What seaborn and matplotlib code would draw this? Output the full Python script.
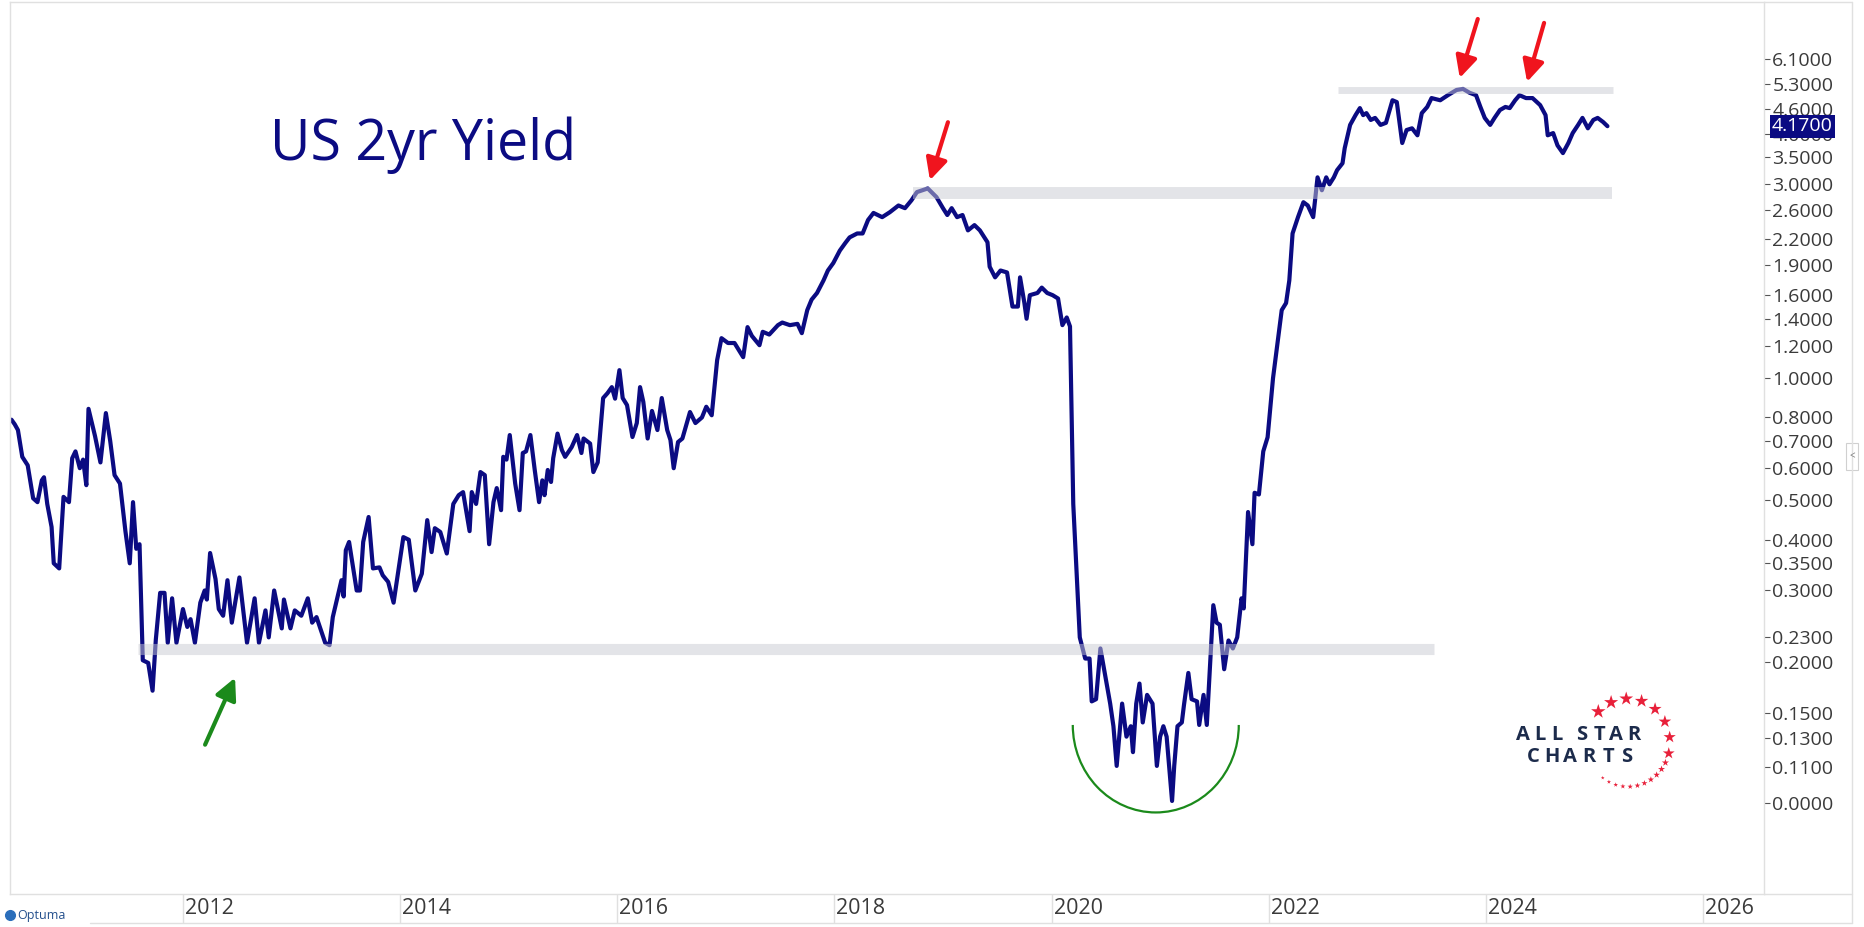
import numpy as np
import pandas as pd
import matplotlib
matplotlib.use("Agg")
import matplotlib.pyplot as plt
import seaborn as sns
from matplotlib.patches import Arc, Rectangle
from matplotlib.lines import Line2D
from matplotlib.ticker import NullLocator
from matplotlib.transforms import blended_transform_factory, IdentityTransform

# US 2yr yield (decimal year, percent)
t_2010_13 = [2010.42, 2010.45, 2010.48, 2010.52, 2010.57, 2010.62, 2010.66, 2010.70, 2010.72, 2010.75,
             2010.79, 2010.81, 2010.86, 2010.90, 2010.95, 2010.98, 2011.01, 2011.05, 2011.08, 2011.11,
             2011.13, 2011.19, 2011.24, 2011.29, 2011.33, 2011.37, 2011.42, 2011.47, 2011.51, 2011.54,
             2011.57, 2011.60, 2011.63, 2011.68, 2011.72, 2011.75, 2011.79, 2011.83, 2011.86, 2011.90,
             2011.94, 2012.00, 2012.04, 2012.07, 2012.11, 2012.16, 2012.20, 2012.22, 2012.25, 2012.30,
             2012.33, 2012.37, 2012.41, 2012.45, 2012.52, 2012.59, 2012.66, 2012.70, 2012.76, 2012.79,
             2012.84, 2012.91, 2012.93, 2012.99, 2013.03, 2013.09, 2013.15, 2013.19, 2013.23, 2013.31,
             2013.35, 2013.38, 2013.46, 2013.48, 2013.50, 2013.53, 2013.60, 2013.63, 2013.66, 2013.71,
             2013.75, 2013.81, 2013.84, 2013.89, 2013.94]
y_2010_13 = [0.79, 0.77, 0.745, 0.64, 0.61, 0.506, 0.495, 0.56, 0.57, 0.49,
             0.43, 0.35, 0.34, 0.51, 0.495, 0.635, 0.66, 0.60, 0.63, 0.545,
             0.84, 0.72, 0.62, 0.82, 0.70, 0.577, 0.55, 0.42, 0.35, 0.495,
             0.38, 0.39, 0.202, 0.199, 0.17, 0.227, 0.296, 0.296, 0.223, 0.287,
             0.223, 0.27, 0.244, 0.255, 0.223, 0.28, 0.30, 0.285, 0.371, 0.32,
             0.27, 0.26, 0.318, 0.25, 0.323, 0.223, 0.287, 0.223, 0.268, 0.23,
             0.30, 0.242, 0.285, 0.242, 0.268, 0.26, 0.287, 0.25, 0.258, 0.223,
             0.22, 0.258, 0.318, 0.29, 0.377, 0.395, 0.30, 0.30, 0.395, 0.455,
             0.34, 0.342, 0.327, 0.315, 0.28]

t_2014_16 = [2014.03, 2014.08, 2014.14, 2014.20, 2014.25, 2014.29, 2014.32, 2014.37, 2014.43, 2014.49,
             2014.54, 2014.58, 2014.64, 2014.66, 2014.70, 2014.74, 2014.78, 2014.82, 2014.86, 2014.89,
             2014.93, 2014.95, 2014.98, 2015.01, 2015.06, 2015.10, 2015.13, 2015.16, 2015.20, 2015.24,
             2015.28, 2015.31, 2015.33, 2015.36, 2015.39, 2015.41, 2015.45, 2015.49, 2015.52, 2015.58,
             2015.63, 2015.67, 2015.69, 2015.75, 2015.78, 2015.82, 2015.87, 2015.91, 2015.95, 2015.98,
             2016.02, 2016.05, 2016.09, 2016.14, 2016.18, 2016.21, 2016.24, 2016.28, 2016.32, 2016.37,
             2016.41, 2016.46, 2016.49, 2016.52, 2016.56, 2016.60, 2016.67, 2016.72, 2016.78, 2016.82,
             2016.87, 2016.92, 2016.96]
y_2014_16 = [0.406, 0.40, 0.30, 0.33, 0.447, 0.373, 0.427, 0.418, 0.37, 0.49,
             0.515, 0.524, 0.42, 0.524, 0.49, 0.587, 0.577, 0.39, 0.495, 0.536,
             0.473, 0.64, 0.63, 0.724, 0.55, 0.473, 0.654, 0.66, 0.724, 0.594,
             0.495, 0.56, 0.515, 0.594, 0.555, 0.635, 0.73, 0.665, 0.64, 0.676,
             0.724, 0.654, 0.71, 0.69, 0.587, 0.62, 0.893, 0.918, 0.95, 0.89,
             1.046, 0.893, 0.858, 0.716, 0.775, 0.95, 0.874, 0.71, 0.83, 0.745,
             0.893, 0.745, 0.704, 0.60, 0.696, 0.71, 0.825, 0.775, 0.80, 0.85,
             0.81, 1.107, 1.254]

t_2017_19 = [2017.02, 2017.08, 2017.16, 2017.20, 2017.24, 2017.31, 2017.34, 2017.40, 2017.48, 2017.52,
             2017.59, 2017.66, 2017.70, 2017.75, 2017.79, 2017.84, 2017.90, 2017.94, 2017.99, 2018.05,
             2018.10, 2018.14, 2018.21, 2018.26, 2018.31, 2018.36, 2018.44, 2018.51, 2018.59, 2018.65,
             2018.71, 2018.76, 2018.81, 2018.86, 2018.94, 2019.00, 2019.04, 2019.08, 2019.13, 2019.18,
             2019.23, 2019.29, 2019.34, 2019.41, 2019.43, 2019.48, 2019.53, 2019.59, 2019.64, 2019.69,
             2019.71, 2019.75, 2019.77, 2019.80, 2019.87, 2019.91, 2019.96]
y_2017_19 = [1.22, 1.22, 1.126, 1.335, 1.27, 1.205, 1.30, 1.28, 1.35, 1.37,
             1.35, 1.36, 1.29, 1.47, 1.56, 1.62, 1.74, 1.84, 1.92, 2.06,
             2.15, 2.22, 2.27, 2.27, 2.45, 2.55, 2.49, 2.56, 2.66, 2.62,
             2.74, 2.87, 2.90, 2.93, 2.79, 2.62, 2.52, 2.62, 2.49, 2.52,
             2.31, 2.38, 2.31, 2.16, 1.88, 1.77, 1.84, 1.82, 1.50, 1.50,
             1.77, 1.53, 1.40, 1.60, 1.62, 1.67, 1.62]

t_2020_21 = [2020.01, 2020.06, 2020.10, 2020.14, 2020.17, 2020.20, 2020.26, 2020.31, 2020.35, 2020.37,
             2020.41, 2020.45, 2020.49, 2020.54, 2020.57, 2020.60, 2020.65, 2020.69, 2020.73, 2020.75,
             2020.78, 2020.81, 2020.84, 2020.88, 2020.93, 2020.97, 2021.00, 2021.03, 2021.06, 2021.11,
             2021.13, 2021.16, 2021.20, 2021.22, 2021.26, 2021.29, 2021.34, 2021.36, 2021.40, 2021.43,
             2021.49, 2021.52, 2021.55, 2021.59, 2021.63, 2021.67, 2021.71, 2021.75, 2021.77, 2021.81,
             2021.85, 2021.87, 2021.91, 2021.95, 2021.99]
y_2020_21 = [1.60, 1.57, 1.35, 1.41, 1.34, 0.49, 0.230, 0.204, 0.204, 0.160,
             0.162, 0.216, 0.188, 0.158, 0.139, 0.111, 0.158, 0.131, 0.139, 0.120,
             0.158, 0.177, 0.142, 0.166, 0.158, 0.111, 0.131, 0.139, 0.131, 0.091,
             0.111, 0.139, 0.142, 0.157, 0.188, 0.162, 0.160, 0.140, 0.166, 0.140,
             0.276, 0.250, 0.247, 0.192, 0.226, 0.216, 0.230, 0.287, 0.271, 0.468,
             0.390, 0.522, 0.517, 0.66, 0.715]

t_2022_25 = [2022.04, 2022.08, 2022.12, 2022.16, 2022.19, 2022.22, 2022.27, 2022.32, 2022.36, 2022.41,
             2022.45, 2022.49, 2022.53, 2022.56, 2022.60, 2022.63, 2022.68, 2022.70, 2022.75, 2022.80,
             2022.84, 2022.87, 2022.90, 2022.94, 2022.98, 2023.03, 2023.08, 2023.14, 2023.18, 2023.23,
             2023.27, 2023.32, 2023.37, 2023.41, 2023.46, 2023.50, 2023.58, 2023.65, 2023.73, 2023.79,
             2023.85, 2023.91, 2023.95, 2023.99, 2024.04, 2024.08, 2024.13, 2024.18, 2024.22, 2024.27,
             2024.31, 2024.37, 2024.43, 2024.50, 2024.55, 2024.57, 2024.62, 2024.66, 2024.71, 2024.76,
             2024.80, 2024.85, 2024.89, 2024.94, 2024.99, 2025.03, 2025.08, 2025.12]
y_2022_25 = [1.00, 1.21, 1.47, 1.53, 1.74, 2.27, 2.49, 2.71, 2.66, 2.49,
             3.12, 2.90, 3.12, 3.00, 3.12, 3.25, 3.38, 3.68, 4.20, 4.44,
             4.62, 4.44, 4.49, 4.32, 4.37, 4.20, 4.25, 4.83, 4.78, 3.79,
             4.08, 4.12, 3.96, 4.49, 4.65, 4.89, 4.83, 4.97, 5.12, 5.15,
             5.04, 4.97, 4.65, 4.37, 4.20, 4.37, 4.57, 4.65, 4.62, 4.83,
             4.97, 4.89, 4.89, 4.70, 4.44, 3.96, 4.01, 3.74, 3.58, 3.79,
             4.01, 4.20, 4.37, 4.12, 4.32, 4.37, 4.27, 4.17]

last_value = 4.17

# right-hand scale of the original chart
ytick_vals = [6.1, 5.3, 4.6, 4.0, 3.5, 3.0, 2.6, 2.2, 1.9, 1.6, 1.4, 1.2, 1.0, 0.8, 0.7, 0.6,
              0.5, 0.4, 0.35, 0.3, 0.23, 0.2, 0.15, 0.13, 0.11, 0.09]
ytick_labels = ["6.1000", "5.3000", "4.6000", "4.0000", "3.5000", "3.0000", "2.6000", "2.2000",
                "1.9000", "1.6000", "1.4000", "1.2000", "1.0000", "0.8000", "0.7000", "0.6000",
                "0.5000", "0.4000", "0.3500", "0.3000", "0.2300", "0.2000", "0.1500", "0.1300",
                "0.1100", "0.0000"]
xtick_years = [2012, 2014, 2016, 2018, 2020, 2022, 2024, 2026]

# support / resistance bands: level, from, to
band_levels = [0.215, 2.85, 5.13]
band_start = [2011.59, 2018.72, 2022.64]
band_end = [2023.52, 2025.16, 2025.17]

# arrow tips (year, yield)
red_tips = [(2018.88, 3.07), (2023.76, 5.48), (2024.38, 5.36)]
green_tip = (2012.48, 0.183)
arc_center = (2020.96, 0.140)

NAVY = "#0b0b82"
RED = "#f0141e"
GREEN = "#1b8a1b"
GRID = "#e0e0e0"
TXT = "#3a3a3a"

df = pd.DataFrame({
    "year": np.concatenate([t_2010_13, t_2014_16, t_2017_19, t_2020_21, t_2022_25]),
    "yield": np.concatenate([y_2010_13, y_2014_16, y_2017_19, y_2020_21, y_2022_25]),
})

sns.set_theme(style="white")
plt.rcParams["font.family"] = ["Open Sans", "DejaVu Sans"]

W, H = 1865, 927
fig = plt.figure(figsize=(W / 100, H / 100), dpi=100)
ax = fig.add_axes([10 / W, 1 - 894 / H, (1764 - 10) / W, (894 - 2) / H])

sns.lineplot(data=df, x="year", y="yield", ax=ax, color=NAVY, linewidth=3.0, zorder=2)
ax.set_yscale("log")
ax.set_xlim(2010.407, 2026.562)
ax.set_ylim(0.0537, 8.43)
ax.set_xlabel("")
ax.set_ylabel("")

for s in ax.spines.values():
    s.set_color(GRID)
    s.set_linewidth(1)

# y axis on the right
ax.yaxis.tick_right()
ax.set_yticks(ytick_vals)
ax.set_yticklabels(ytick_labels)
ax.yaxis.set_minor_locator(NullLocator())
ax.tick_params(axis="y", which="major", right=True, left=False, length=4.5, width=0.8,
               color="#555555", pad=1.5, labelsize=14, labelcolor=TXT)

# x axis: separators in a band, labels to the right of each
ax.set_xticks(xtick_years)
ax.set_xticklabels([])
ax.xaxis.set_minor_locator(NullLocator())
ax.tick_params(axis="x", which="major", bottom=True, length=21, width=1, color=GRID, direction="out")
xt = blended_transform_factory(ax.transData, ax.transAxes)
for yr in xtick_years:
    ax.annotate(str(yr), xy=(yr, 0), xycoords=xt, xytext=(1.5, -10.5), textcoords="offset points",
                ha="left", va="center", fontsize=15.5, color=TXT, annotation_clip=False)

# bands drawn over the line
for lev, x0, x1, lw in zip(band_levels, band_start, band_end, [8, 8.6, 5]):
    ax.plot([x0, x1], [lev, lev], color="#c9cad2", alpha=0.5, lw=lw, solid_capstyle="butt", zorder=3)

# arrows
for (xa, ya), off in zip(red_tips, [(18, 58), (18, 59), (17, 59)]):
    ax.annotate("", xy=(xa, ya), xytext=off, textcoords="offset pixels",
                arrowprops=dict(arrowstyle="-|>,head_length=1.0,head_width=0.5", color=RED, lw=3,
                                shrinkA=0, shrinkB=0, mutation_scale=13), zorder=4)
ax.annotate("", xy=green_tip, xytext=(-30, -67), textcoords="offset pixels",
            arrowprops=dict(arrowstyle="-|>,head_length=1.0,head_width=0.5", color=GREEN, lw=3,
                            shrinkA=0, shrinkB=0, mutation_scale=13), zorder=4)

# green bowl under the 2020-21 low
cx, cy = ax.transData.transform(arc_center)
fig.add_artist(Arc((cx, cy), 166, 175, theta1=180, theta2=360, transform=IdentityTransform(),
                   color=GREEN, lw=1.6))

# last value tag
yt = blended_transform_factory(ax.transAxes, ax.transData)
ax.text(1.0046, last_value, f"{last_value:.4f}", transform=yt, color="white", fontsize=14,
        ha="left", va="center", zorder=6,
        bbox=dict(boxstyle="square,pad=0.12", fc=NAVY, ec="none"))

# title
fig.text(270 / W, 1 - 160 / H, "US 2yr Yield", fontsize=40, color=NAVY, va="baseline", ha="left")


def fx(x):
    return x / W


def fy(y):
    return 1 - y / H


# frame pieces outside the axes
for xs, ys in [([1764, 1852], [1.5, 1.5]), ([1852, 1852], [1.5, 923]), ([90, 1852], [923, 923]),
               ([1764, 1852], [894, 894])]:
    fig.add_artist(Line2D([fx(v) for v in xs], [fy(v) for v in ys], color=GRID, lw=1))
fig.add_artist(Rectangle((fx(1846), fy(470)), 12 / W, 27 / H, fc="white", ec="#d0d0d0", lw=0.8))
fig.text(fx(1852), fy(457), "<", fontsize=7, color="#777777", ha="center", va="center")

# Optuma mark
fig.add_artist(Line2D([fx(10)], [fy(915)], marker="o", ms=7, color="#2a6ebb", ls="none"))
fig.text(fx(17), fy(916), "Optuma", fontsize=9, color="#234f8c", va="center", ha="left")

# All Star Charts logo
logo_c = (1628, 742.7)
ang_big = np.deg2rad(np.linspace(135, -14, 8))
ang_small = np.deg2rad(np.linspace(-27, -127, 11))
ax.scatter([fx(logo_c[0] + 42 * np.cos(a)) for a in ang_big],
           [fy(logo_c[1] - 44 * np.sin(a)) for a in ang_big],
           s=np.linspace(120, 80, 8), marker="*", color="#e8203a", transform=fig.transFigure,
           clip_on=False, linewidths=0, zorder=5)
ax.scatter([fx(logo_c[0] + 42 * np.cos(a)) for a in ang_small],
           [fy(logo_c[1] - 44 * np.sin(a)) for a in ang_small],
           s=np.linspace(30, 8, 11), marker="*", color="#e8203a", transform=fig.transFigure,
           clip_on=False, linewidths=0, zorder=5)
logo_words = ["ALL STAR", "CHARTS"]
logo_x = [[1523, 1540, 1557, None, 1582, 1599, 1616, 1634], [1533, 1552, 1570, 1589, 1608, 1627]]
logo_y = [735, 757]
for word, xs, yy in zip(logo_words, logo_x, logo_y):
    for ch, xx in zip(word, xs):
        if xx is None:
            continue
        fig.text(fx(xx), fy(yy), ch, fontsize=14.5, fontweight="bold", color="#1c2b4b",
                 ha="center", va="center")

fig.savefig("out.png", dpi=100)
